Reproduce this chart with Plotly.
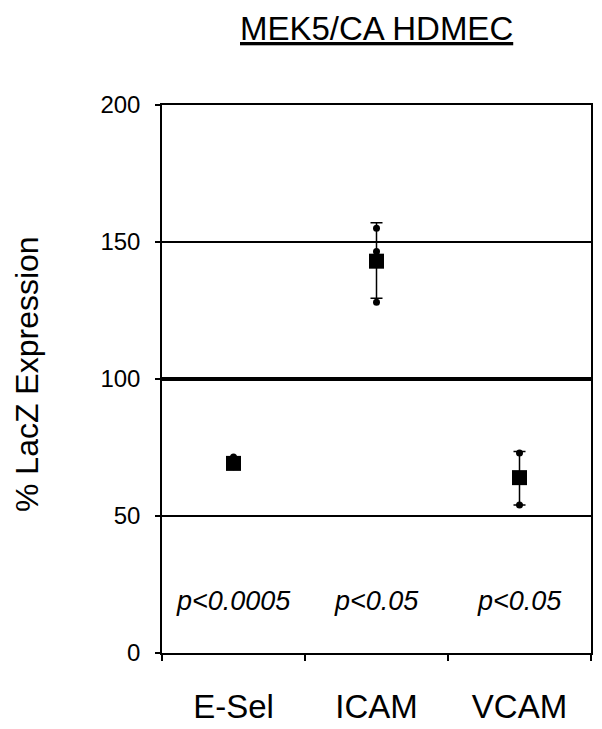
import plotly.graph_objects as go

categories = ["E-Sel", "ICAM", "VCAM"]
means = [69.2, 143.0, 64.0]
err_plus = [1.5, 14.0, 9.5]
err_minus = [1.5, 13.5, 10.0]
pvalues = ["p<0.0005", "p<0.05", "p<0.05"]

# individual replicate points
pt_cats = ["E-Sel", "E-Sel", "ICAM", "ICAM", "ICAM", "ICAM", "VCAM", "VCAM", "VCAM"]
pt_vals = [71.5, 68.0, 155.0, 146.5, 143.0, 128.0, 73.0, 64.0, 54.0]

y_ticks = [0, 50, 100, 150, 200]
reference_level = 100

FONT = "Liberation Sans, Arial, sans-serif"
TOP_MARGIN = 97

fig = go.Figure()

fig.add_trace(go.Scatter(
    x=pt_cats, y=pt_vals, mode="markers",
    marker=dict(symbol="circle", size=7, color="black"),
    showlegend=False, hoverinfo="skip",
))

fig.add_trace(go.Scatter(
    x=categories, y=means, mode="markers",
    marker=dict(symbol="square", size=15, color="black"),
    error_y=dict(type="data", symmetric=False, array=err_plus, arrayminus=err_minus,
                 color="black", thickness=1.5, width=6),
    showlegend=False,
))

fig.add_shape(type="line", xref="paper", yref="y", x0=0, x1=1,
              y0=reference_level, y1=reference_level,
              line=dict(color="black", width=4))

for c, p in zip(categories, pvalues):
    fig.add_annotation(x=c, y=19, text=p, showarrow=False,
                       font=dict(family=FONT, size=27, color="black", style="italic"))

fig.add_annotation(xref="paper", yref="paper", x=0.5, y=1, yshift=TOP_MARGIN,
                   text="<u>MEK5/CA HDMEC</u>", showarrow=False,
                   font=dict(family=FONT, size=33, color="black"),
                   yanchor="top")

# y-axis title
fig.add_annotation(xref="paper", yref="paper", x=0, y=0.5, xshift=-135, yshift=5,
                   text="% LacZ Expression", showarrow=False, textangle=-90,
                   font=dict(family=FONT, size=32, color="black"),
                   xanchor="center", yanchor="middle")

fig.update_layout(
    width=602, height=729,
    margin=dict(l=154, r=19, t=TOP_MARGIN, b=84, autoexpand=False),
    paper_bgcolor="white", plot_bgcolor="white",
    font=dict(family=FONT, color="black"),
    xaxis=dict(
        type="category", range=[-0.5, 2.5], tickson="boundaries",
        ticks="outside", ticklen=6, tickwidth=1.5, tickcolor="black",
        showline=True, linecolor="black", linewidth=1.5, mirror=True,
        showgrid=False, tickfont=dict(size=33, family=FONT),
        ticklabelstandoff=24, automargin=False,
    ),
    yaxis=dict(
        range=[0, 200], tickvals=y_ticks,
        ticks="outside", ticklen=5, tickwidth=1.5, tickcolor="black",
        showline=True, linecolor="black", linewidth=1.5, mirror=True,
        showgrid=True, gridcolor="black", gridwidth=1.5,
        zeroline=False, tickfont=dict(size=24, family=FONT),
        ticklabelstandoff=10, automargin=False,
    ),
)

fig.write_html("out.html")
